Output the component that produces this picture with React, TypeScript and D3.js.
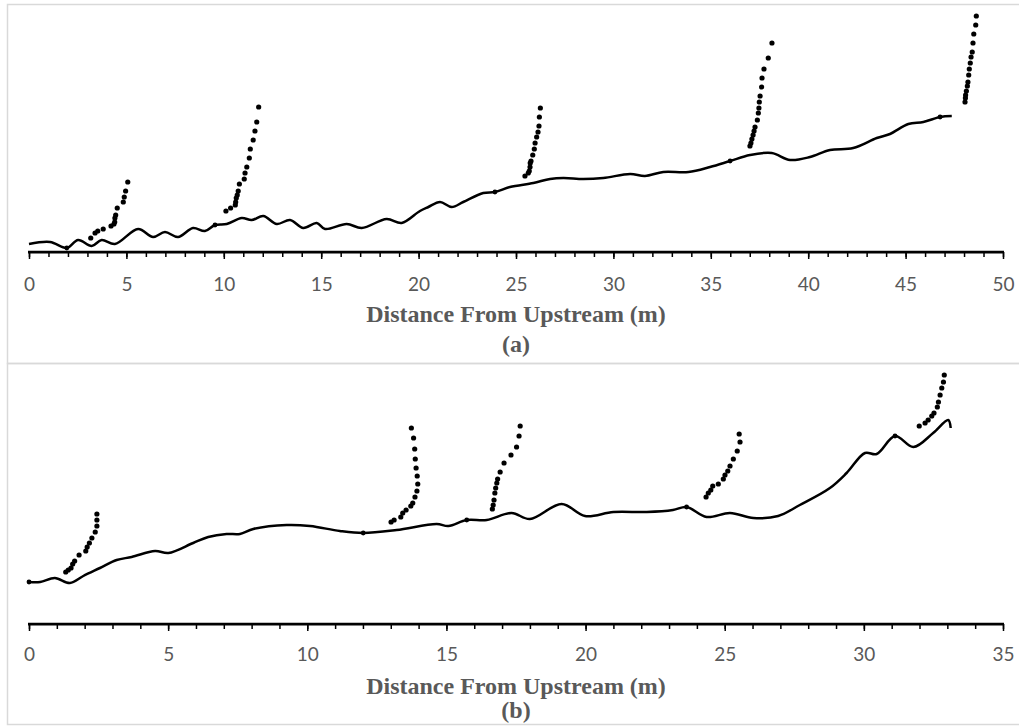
import React, { useRef, useEffect } from "react";
import * as d3 from "d3";

// ---- panel (a) ----
const ticksA = [0, 5, 10, 15, 20, 25, 30, 35, 40, 45, 50];
const bedAx = [0, 1.08, 1.94, 2.52, 3.22, 3.73, 4.41, 5.6, 6.37, 6.98, 7.65, 8.42, 9.03, 9.55, 10.15, 10.92, 11.43, 12.03, 12.72, 13.4, 14.08, 14.77, 15.2, 16.31, 17.08, 18.36, 19.13, 20.07, 20.5, 21.1, 21.7, 22.29, 23.32, 23.92, 24.69, 25.89, 26.75, 27.43, 28.45, 29.48, 30.86, 31.62, 32.56, 33.85, 34.96, 35.99, 37.01, 38.13, 39.07, 40.09, 41.12, 42.31, 43.52, 44.2, 45.14, 45.91, 46.77, 47.37];
const bedAy = [0.08, 0.1, 0.04, 0.12, 0.06, 0.12, 0.08, 0.23, 0.15, 0.2, 0.15, 0.24, 0.21, 0.27, 0.28, 0.34, 0.32, 0.36, 0.28, 0.32, 0.24, 0.29, 0.23, 0.28, 0.24, 0.33, 0.29, 0.41, 0.45, 0.5, 0.45, 0.5, 0.59, 0.6, 0.65, 0.69, 0.73, 0.74, 0.73, 0.74, 0.78, 0.76, 0.8, 0.8, 0.85, 0.91, 0.97, 0.99, 0.92, 0.95, 1.02, 1.04, 1.14, 1.18, 1.28, 1.3, 1.35, 1.36];
const profA1x = [3.17, 3.39, 3.53, 3.81, 4.21, 4.36, 4.4, 4.41, 4.45, 4.53, 4.84, 4.89, 4.96, 5.07];
const profA1y = [0.14, 0.19, 0.21, 0.23, 0.26, 0.28, 0.3, 0.34, 0.37, 0.44, 0.5, 0.55, 0.61, 0.7];
const profA2x = [10.11, 10.35, 10.59, 10.61, 10.64, 10.69, 10.74, 10.8, 11.05, 11.09, 11.18, 11.31, 11.36, 11.51, 11.6, 11.69, 11.79];
const profA2y = [0.41, 0.44, 0.47, 0.5, 0.54, 0.57, 0.61, 0.68, 0.73, 0.79, 0.85, 0.94, 1.03, 1.12, 1.21, 1.3, 1.45];
const profA3x = [25.46, 25.63, 25.68, 25.72, 25.73, 25.77, 25.86, 25.94, 25.98, 26.06, 26.13, 26.18, 26.2, 26.25];
const profA3y = [0.76, 0.79, 0.81, 0.85, 0.89, 0.91, 0.97, 1.03, 1.09, 1.15, 1.2, 1.26, 1.35, 1.44];
const profA4x = [37.01, 37.06, 37.11, 37.17, 37.22, 37.27, 37.39, 37.44, 37.47, 37.49, 37.53, 37.61, 37.63, 37.73, 37.95, 38.14];
const profA4y = [1.06, 1.09, 1.13, 1.17, 1.21, 1.25, 1.32, 1.39, 1.44, 1.5, 1.56, 1.65, 1.74, 1.83, 1.94, 2.09];
const profA5x = [48.05, 48.07, 48.08, 48.12, 48.17, 48.2, 48.24, 48.27, 48.32, 48.36, 48.42, 48.46, 48.5, 48.6, 48.63];
const profA5y = [1.5, 1.54, 1.57, 1.61, 1.66, 1.7, 1.77, 1.83, 1.89, 1.95, 2.0, 2.09, 2.18, 2.27, 2.36];
const markAx = [1.94, 9.55, 23.92, 35.99, 46.77];
const markAy = [0.04, 0.27, 0.6, 0.91, 1.35];

// ---- panel (b) ----
const ticksB = [0, 5, 10, 15, 20, 25, 30, 35];
const bedBx = [0, 0.4, 0.93, 1.47, 1.95, 2.55, 3.15, 3.69, 4.53, 5.01, 5.9, 6.44, 7.1, 7.58, 8.06, 9.26, 10.1, 11.17, 12.01, 13.21, 14.65, 15.07, 15.73, 16.45, 17.34, 18.0, 19.14, 19.98, 21.0, 22.2, 23.14, 23.63, 24.35, 25.19, 26.03, 26.92, 27.7, 28.78, 29.38, 30.04, 30.46, 31.12, 31.78, 32.49, 33.03, 33.12];
const bedBy = [0.42, 0.42, 0.46, 0.41, 0.48, 0.56, 0.64, 0.67, 0.73, 0.71, 0.81, 0.87, 0.9, 0.9, 0.95, 0.99, 0.98, 0.93, 0.91, 0.94, 1.0, 0.98, 1.04, 1.04, 1.11, 1.05, 1.2, 1.08, 1.12, 1.12, 1.14, 1.17, 1.07, 1.11, 1.06, 1.08, 1.19, 1.36, 1.51, 1.71, 1.7, 1.88, 1.77, 1.91, 2.04, 1.96];
const profB1x = [1.32, 1.41, 1.51, 1.57, 1.64, 1.8, 2.04, 2.09, 2.17, 2.26, 2.38, 2.44, 2.44, 2.44];
const profB1y = [0.52, 0.54, 0.56, 0.6, 0.63, 0.69, 0.73, 0.77, 0.81, 0.86, 0.92, 0.98, 1.04, 1.1];
const profB2x = [13.01, 13.12, 13.36, 13.43, 13.55, 13.72, 13.79, 13.87, 13.94, 13.97, 13.95, 13.91, 13.88, 13.86, 13.82, 13.74];
const profB2y = [1.02, 1.04, 1.07, 1.11, 1.14, 1.18, 1.21, 1.27, 1.33, 1.4, 1.48, 1.56, 1.65, 1.75, 1.86, 1.96];
const profB3x = [16.65, 16.68, 16.71, 16.74, 16.77, 16.81, 16.84, 16.93, 17.07, 17.32, 17.52, 17.61, 17.65];
const profB3y = [1.15, 1.19, 1.24, 1.31, 1.36, 1.41, 1.45, 1.52, 1.61, 1.69, 1.77, 1.88, 1.98];
const profB4x = [24.33, 24.41, 24.5, 24.57, 24.77, 24.95, 25.01, 25.11, 25.19, 25.31, 25.45, 25.55, 25.52];
const profB4y = [1.27, 1.31, 1.34, 1.38, 1.4, 1.45, 1.49, 1.53, 1.58, 1.65, 1.73, 1.82, 1.9];
const profB5x = [31.99, 32.2, 32.31, 32.44, 32.52, 32.64, 32.68, 32.74, 32.8, 32.86, 32.89];
const profB5y = [1.98, 2.01, 2.04, 2.08, 2.11, 2.17, 2.22, 2.29, 2.36, 2.42, 2.49];
const markBx = [0, 12.01, 15.73, 23.63, 31.12];
const markBy = [0.42, 0.91, 1.04, 1.17, 1.88];

const zip = (xs, ys) => xs.map((x, i) => [x, ys[i]]);

const panels = [
  {
    boxTop: 4.5,
    boxBottom: 363.5,
    axisY: 252,
    ticks: ticksA,
    bed: zip(bedAx, bedAy),
    profiles: [
      zip(profA1x, profA1y),
      zip(profA2x, profA2y),
      zip(profA3x, profA3y),
      zip(profA4x, profA4y),
      zip(profA5x, profA5y),
    ],
    marks: zip(markAx, markAy),
    labelY: 291,
    titleY: 322,
    captionY: 352,
    caption: "(a)",
  },
  {
    boxTop: 363.5,
    boxBottom: 724.5,
    axisY: 624,
    ticks: ticksB,
    bed: zip(bedBx, bedBy),
    profiles: [
      zip(profB1x, profB1y),
      zip(profB2x, profB2y),
      zip(profB3x, profB3y),
      zip(profB4x, profB4y),
      zip(profB5x, profB5y),
    ],
    marks: zip(markBx, markBy),
    labelY: 661,
    titleY: 694,
    captionY: 718,
    caption: "(b)",
  },
];

const W = 1019;
const H = 726;
const X0 = 29;
const X1 = 1003;
const SERIF = "'Liberation Serif', 'Times New Roman', serif";

export default function App() {
  const ref = useRef(null);

  useEffect(() => {
    const svg = d3.select(ref.current);
    svg.selectAll("*").remove();

    panels.forEach((p) => {
      const xMax = p.ticks[p.ticks.length - 1];
      const x = d3.scaleLinear().domain([0, xMax]).range([X0, X1]);
      const y = d3.scaleLinear().domain([0, 2.4]).range([p.axisY, p.axisY - 240]);
      const g = svg.append("g");

      // frame
      g.append("rect")
        .attr("x", 7.5)
        .attr("y", p.boxTop)
        .attr("width", 1040)
        .attr("height", p.boxBottom - p.boxTop)
        .attr("fill", "none")
        .attr("stroke", "#d9d9d9")
        .attr("stroke-width", 1.5);

      // minor ticks
      g.append("g")
        .attr("transform", `translate(0,${p.axisY})`)
        .call(d3.axisBottom(x).tickValues(d3.range(0, xMax + 1, 1)).tickSize(5).tickFormat(() => ""))
        .call((a) => a.select(".domain").remove())
        .selectAll(".tick line")
        .attr("stroke", "#000")
        .attr("stroke-width", 1.5);

      // major ticks + labels
      const ax = g.append("g")
        .attr("transform", `translate(0,${p.axisY})`)
        .call(d3.axisBottom(x).tickValues(p.ticks).tickSize(7).tickFormat(d3.format("d")));
      ax.select(".domain").remove();
      ax.selectAll(".tick line").attr("stroke", "#000").attr("stroke-width", 1.5);
      ax.selectAll(".tick text")
        .attr("y", p.labelY - p.axisY)
        .attr("dy", 0)
        .attr("fill", "#595959")
        .attr("font-family", "Lato, 'Open Sans', sans-serif")
        .attr("font-size", 19);

      // axis line
      g.append("line")
        .attr("x1", X0 - 1)
        .attr("x2", X1 + 1)
        .attr("y1", p.axisY)
        .attr("y2", p.axisY)
        .attr("stroke", "#000")
        .attr("stroke-width", 2.75);

      // bed profile
      const line = d3.line()
        .x((d) => x(d[0]))
        .y((d) => y(d[1]))
        .curve(d3.curveCatmullRom.alpha(0.5));
      g.append("path")
        .attr("d", line(p.bed))
        .attr("fill", "none")
        .attr("stroke", "#000")
        .attr("stroke-width", 2.5)
        .attr("stroke-linejoin", "round");

      g.selectAll("circle.mark")
        .data(p.marks)
        .enter()
        .append("circle")
        .attr("class", "mark")
        .attr("cx", (d) => x(d[0]))
        .attr("cy", (d) => y(d[1]))
        .attr("r", 2.4)
        .attr("fill", "#000");

      // velocity profiles
      p.profiles.forEach((pts) => {
        g.append("g")
          .selectAll("circle")
          .data(pts)
          .enter()
          .append("circle")
          .attr("cx", (d) => x(d[0]))
          .attr("cy", (d) => y(d[1]))
          .attr("r", 2.6)
          .attr("fill", "#000");
      });

      // titles
      g.append("text")
        .attr("x", (X0 + X1) / 2)
        .attr("y", p.titleY)
        .attr("text-anchor", "middle")
        .attr("font-family", SERIF)
        .attr("font-weight", "bold")
        .attr("font-size", 24)
        .attr("fill", "#595959")
        .text("Distance From Upstream (m)");

      g.append("text")
        .attr("x", (X0 + X1) / 2)
        .attr("y", p.captionY)
        .attr("text-anchor", "middle")
        .attr("font-family", SERIF)
        .attr("font-weight", "bold")
        .attr("font-size", 24)
        .attr("fill", "#595959")
        .text(p.caption);
    });
  }, []);

  return (
    <div style={{ position: "absolute", left: 0, top: 0, width: W, height: H, background: "#fff" }}>
      <svg ref={ref} width={W} height={H} style={{ display: "block" }} />
    </div>
  );
}
